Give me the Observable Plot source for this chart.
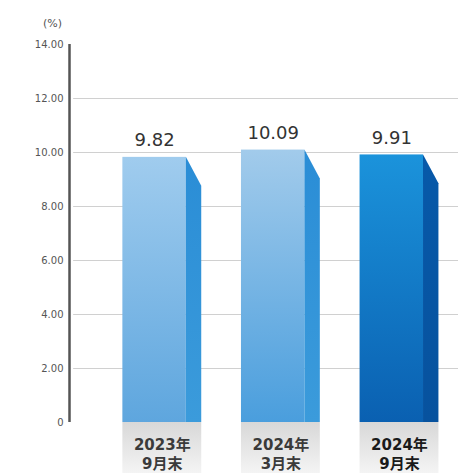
<!DOCTYPE html>
<html>
<head>
<meta charset="utf-8">
<script src="https://cdn.jsdelivr.net/npm/d3@7"></script>
<script src="https://cdn.jsdelivr.net/npm/@observablehq/plot@0.6"></script>
<style>
  html, body { margin: 0; padding: 0; background: #fff; }
  #chart svg { display: block; }
</style>
</head>
<body>
<div id="chart"></div>
<script>
// ---- data ----
const categories = ["2023年\n9月末", "2024年\n3月末", "2024年\n9月末"];
const values = [9.82, 10.09, 9.91];
const valueLabels = ["9.82", "10.09", "9.91"];
const yTicks = [0, 2, 4, 6, 8, 10, 12, 14];
const yUnit = "(%)";

// ---- styles / geometry (not data) ----
const frontColors = [["#a0ccee", "#5ea6de"], ["#a2cbeb", "#4a9edd"], ["#1b93db", "#0a60b1"]];
const sideColors = [["#2a8dd6", "#3b9bdb"], ["#2a8dd6", "#3b9bdb"], ["#0759a9", "#07529e"]];
const frontL = -0.33, frontR = 0.205, sideR = 0.335, slant = 1.07, labelDepth = 1.9;
const xMin = -0.78, xMax = 2.5;

const rows = categories.map((c, i) => ({i, cat: c, value: values[i], label: valueLabels[i]}));
const sideRows = rows.flatMap(d => [
  {i: d.i, x: d.i + frontR, y: d.value},
  {i: d.i, x: d.i + sideR, y: d.value - slant}
]);

const marks = [
  Plot.ruleY(yTicks.filter(t => t > 0 && t < 14), {x1: xMin + 0.035, x2: xMax, stroke: "#d0d0d0", strokeWidth: 1}),
  Plot.ruleX([xMin], {y1: 0, y2: 14, stroke: "#555", strokeWidth: 2.5}),
  Plot.axisY({ticks: yTicks, tickSize: 0, tickPadding: 6, tickFormat: d => d === 0 ? "0" : d.toFixed(2), fontSize: 10, fill: "#555"}),
  Plot.text([yUnit], {x: xMin, y: 14, dx: -17, dy: -21, text: d => d, fontSize: 11, fill: "#555"})
];
rows.forEach(d => {
  marks.push(Plot.rect([d], {x1: r => r.i + frontL, x2: r => r.i + sideR, y1: 0, y2: -labelDepth, fill: "url(#lab)"}));
  marks.push(Plot.rectY([d], {x1: r => r.i + frontL, x2: r => r.i + frontR, y1: 0, y2: "value", fill: `url(#f${d.i})`}));
  marks.push(Plot.areaY(sideRows.filter(s => s.i === d.i), {x: "x", y1: 0, y2: "y", curve: "linear", fill: `url(#s${d.i})`}));
});
marks.push(Plot.text(rows, {x: d => d.i + (frontL + frontR) / 2, y: "value", text: "label", lineAnchor: "bottom", dy: -11, fontSize: 18, fill: "#333", fontFamily: "DejaVu Sans"}));
marks.push(Plot.text(rows, {x: d => d.i + (frontL + sideR) / 2, y: 0, text: "cat", lineAnchor: "top", dy: 14, lineHeight: 1.27, fontSize: 15, fontWeight: "bold", fill: d => d.i === 2 ? "#1a1a1a" : "#3a3a3a", fontFamily: "DejaVu Sans, 'Noto Sans CJK JP'"}));

const chart = Plot.plot({
  width: 458,
  height: 473,
  marginTop: 44,
  marginBottom: 51,
  marginLeft: 69,
  marginRight: 0,
  style: {fontFamily: "'DejaVu Sans', sans-serif", background: "#fff"},
  x: {domain: [xMin, xMax], axis: null},
  y: {domain: [0, 14], axis: null},
  color: {type: "identity"},
  marks
});

const svg = d3.select(chart);
const defs = svg.insert("defs", ":first-child");
function grad(id, c0, c1) {
  const g = defs.append("linearGradient").attr("id", id).attr("x1", 0).attr("y1", 0).attr("x2", 0).attr("y2", 1);
  g.append("stop").attr("offset", "0%").attr("stop-color", c0);
  g.append("stop").attr("offset", "100%").attr("stop-color", c1);
}
frontColors.forEach((c, i) => grad(`f${i}`, c[0], c[1]));
sideColors.forEach((c, i) => grad(`s${i}`, c[0], c[1]));
grad("lab", "#d8d8d8", "#f4f4f4");

document.getElementById("chart").appendChild(chart);
</script>
</body>
</html>
